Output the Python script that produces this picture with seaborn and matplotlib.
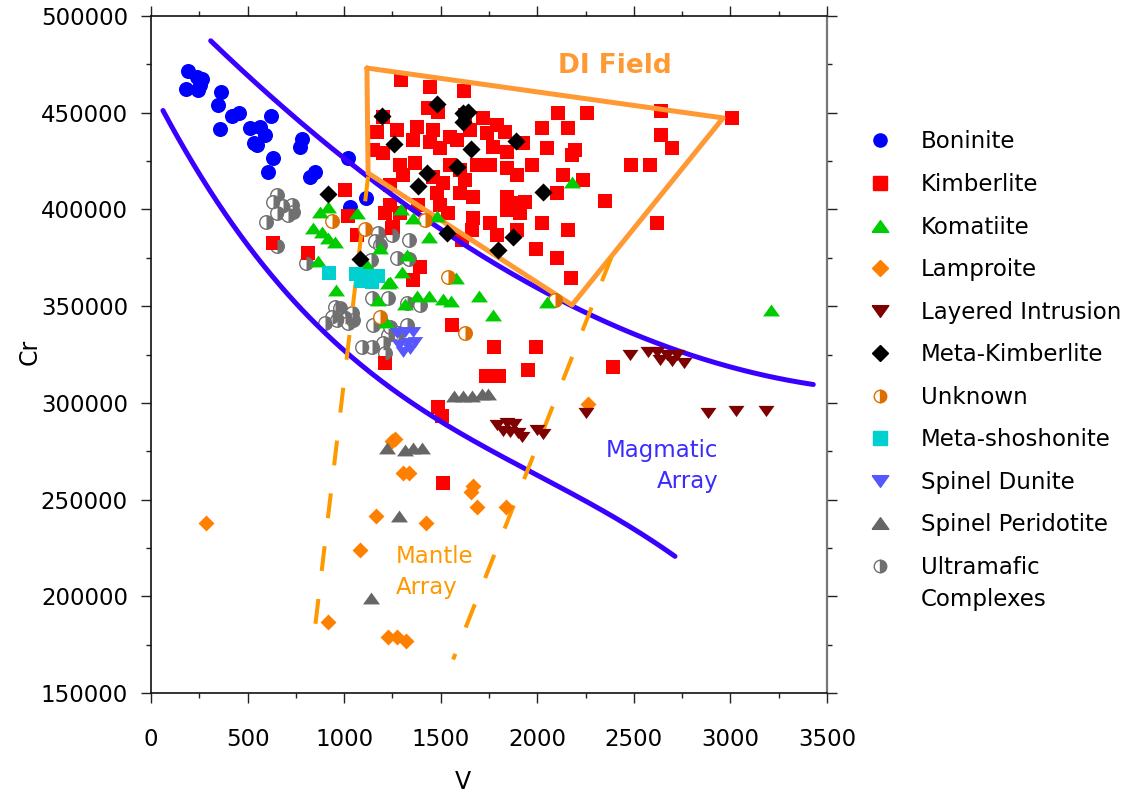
import numpy as np
import pandas as pd
import matplotlib
matplotlib.use("Agg")
import matplotlib.pyplot as plt
from matplotlib.lines import Line2D
from matplotlib.ticker import MultipleLocator
from matplotlib.transforms import IdentityTransform
import seaborn as sns

# ---------------- data ----------------
boninite_v = [193, 237, 262, 181, 245, 254, 361, 348, 418, 457, 620, 357, 513, 564, 590, 533, 547,
              780, 772, 633, 607, 849, 823, 1019, 1113, 1030]
boninite_cr = [471700, 468600, 467300, 462100, 461700, 464300, 460900, 454000, 448300, 450000, 448300,
               441600, 441900, 442800, 438500, 434200, 433300, 436300, 432100, 426400, 419500, 419500,
               416900, 426400, 405700, 401100]

kimberlite_v = [1293, 1445, 1622, 1436, 1203, 1488, 1626, 1721, 1790, 1169, 1272, 1376, 1462, 1548, 1652,
                1738, 1833, 1928, 1358, 1445, 1496, 1583, 1772, 1842, 1151, 1203, 1289, 1367, 1306, 1548,
                1600, 1686, 1755, 1842, 1894, 1971, 1462, 1514, 1626, 1238, 1479, 1600, 1669, 1842, 1894,
                1937, 1238, 1384, 1496, 1539, 1212, 1246, 1289, 1669, 1755, 1661, 1609, 1790, 1894, 1911,
                1842, 2023, 1994, 2104, 2173, 2161, 2106, 2256, 2161, 2023, 2049, 2195, 2178, 2135, 2238,
                2101, 2351, 2485, 2584, 2639, 2639, 2696, 3007, 2622, 1393, 1358, 1005, 633, 811, 1065,
                1255, 1557, 1776, 1994, 1735, 1802, 1954, 2394, 1488, 1508, 1510, 1212, 1020]
kimberlite_cr = [466900, 463400, 461400, 452300, 447900, 450500, 448800, 447100, 443600, 440200, 441100,
                 442800, 441100, 437600, 441100, 439400, 440200, 434200, 435900, 435000, 431600, 435900,
                 432400, 429800, 430700, 429000, 423000, 423800, 417800, 423000, 420400, 423000, 423000,
                 421300, 417800, 423000, 416900, 413500, 415200, 412600, 408300, 408300, 406600, 406600,
                 403200, 404000, 402300, 402300, 402300, 398000, 398000, 390200, 398000, 395400, 392800,
                 389400, 384200, 386800, 389400, 398000, 399700, 392800, 379500, 374700, 364700, 389400,
                 450000, 450000, 441900, 441900, 431900, 430700, 428100, 417800, 415200, 408300, 404500,
                 423000, 423000, 451000, 438500, 431900, 447100, 392800, 370400, 363500, 410000, 382500,
                 377300, 386800, 391100, 340200, 329000, 329000, 313900, 313900, 317000, 318400, 298000,
                 293400, 258700, 320400, 396600]

komatiite_v = [918, 875, 1065, 840, 884, 918, 955, 864, 1118, 1130, 1186, 1293, 1354, 1439, 1479, 958,
               1229, 1302, 1324, 1174, 1217, 1315, 1379, 1439, 1514, 1553, 1577, 1698, 1769, 2178, 2049,
               1238, 3210]
komatiite_cr = [401400, 398800, 397900, 390200, 388100, 385200, 383300, 373500, 371300, 368700, 379900,
                400200, 395400, 385900, 396700, 358300, 362100, 367800, 376400, 353200, 341600, 351100,
                355200, 355200, 353500, 352800, 364800, 355000, 345400, 414300, 352300, 362600, 348000]

lamproite_v = [285, 1249, 1263, 1306, 1337, 1669, 1655, 1686, 1838, 1165, 1424, 1082, 918, 1229, 1275,
               1320, 2264]
lamproite_cr = [237700, 280400, 281300, 263600, 263600, 257000, 254100, 246000, 246300, 241700, 237700,
                223900, 186900, 178800, 178800, 177000, 299400]

layered_v = [2480, 2575, 2618, 2636, 2670, 2696, 2722, 2760, 2251, 2883, 3029, 3183,
             1792, 1843, 1880, 1823, 1859, 1900, 1921, 1999, 2030]
layered_cr = [324700, 326400, 326400, 322200, 324700, 321800, 324700, 320400, 294600, 294600, 295800,
              295800, 288500, 289600, 289100, 285400, 284900, 284400, 282300, 286000, 283900]

metakimb_v = [1198, 1479, 1617, 1643, 1617, 1260, 1657, 1890, 1428, 1384, 1583, 2028, 1531, 1876, 1795,
              918, 1082]
metakimb_cr = [448500, 454300, 449700, 450500, 445400, 433800, 431200, 435400, 419000, 412100, 422100,
               409200, 388000, 385900, 379000, 408000, 374400]

unknown_v = [936, 1108, 1539, 1626, 1186, 1419, 2092]
unknown_cr = [394000, 389700, 364900, 336000, 344500, 394500, 353200]

metashosh_v = [922, 1061, 1087, 1118, 1144, 1175]
metashosh_cr = [367300, 366600, 363000, 365600, 362500, 365600]

spdunite_v = [1272, 1315, 1358, 1286, 1332, 1367, 1306, 1341]
spdunite_cr = [336000, 336800, 336800, 329900, 330800, 331700, 326400, 327800]

spperid_v = [1569, 1617, 1661, 1712, 1747, 1220, 1315, 1358, 1402, 1286, 1138]
spperid_cr = [303700, 303700, 303700, 304400, 304400, 276500, 275600, 276800, 276800, 241500, 199000]

ultra_v = [651, 632, 683, 729, 737, 651, 707, 595, 651, 804, 1177, 1246, 1336, 1160, 1186, 1272, 1336,
           1137, 953, 979, 936, 1005, 1039, 901, 962, 1022, 1048, 1143, 1229, 1151, 1229, 1203, 1091,
           1143, 1212, 1238, 1324, 1281, 1324, 1393]
ultra_cr = [407500, 403800, 401800, 402300, 398800, 398000, 397100, 393700, 381300, 372100, 387700,
            386800, 384200, 383700, 381600, 374700, 374400, 373900, 349700, 348900, 344500, 344500,
            346300, 341100, 342800, 341100, 342800, 354100, 354100, 340200, 335100, 330800, 329000,
            329000, 325600, 339400, 340200, 336000, 351500, 350600]

# reference lines
magma_upper_v = [309, 1099, 2187, 2670, 3429]
magma_upper_cr = [487200, 418700, 349800, 329000, 309500]
magma_lower_v = [62, 513, 1203, 1772, 2325, 2713]
magma_lower_cr = [451900, 378100, 311800, 275600, 243000, 221600]

di_v = [1118, 2962, 2180, 1124, 1118]
di_cr = [473100, 447300, 350600, 418800, 473100]

mantle_left_v = [1124, 849]
mantle_left_cr = [417000, 183600]
mantle_right_v = [2382, 1564]
mantle_right_cr = [374900, 167300]

labels = ["Boninite", "Kimberlite", "Komatiite", "Lamproite", "Layered Intrusion", "Meta-Kimberlite",
          "Unknown", "Meta-shoshonite", "Spinel Dunite", "Spinel Peridotite", "Ultramafic"]

# ---------------- style ----------------
sns.set_style("ticks")
plt.rcParams["font.family"] = ["DejaVu Sans"]
for k in ["text.color", "axes.labelcolor", "xtick.labelcolor", "ytick.labelcolor"]:
    plt.rcParams[k] = "black"

FS = 16.5
fig = plt.figure(figsize=(11.35, 7.95), dpi=100)
ax = fig.add_axes([151 / 1135, 1 - 693 / 795, 676 / 1135, 677 / 795])

tri_up = [(-1, -0.7), (1, -0.7), (0, 0.7), (-1, -0.7)]
tri_dn = [(-1, 0.7), (1, 0.7), (0, -0.7), (-1, 0.7)]
t = np.linspace(-np.pi / 2, np.pi / 2, 40)
half = [(0, -1)] + [(np.cos(a), np.sin(a)) for a in t] + [(0, 1), (0, -1)]

def sc(v, cr, marker, color, s, z=4):
    sns.scatterplot(x=v, y=cr, marker=marker, color=color, s=s, linewidth=0, ax=ax,
                    legend=False, zorder=z)

def halfsc(v, cr, color, s, z=4):
    sns.scatterplot(x=v, y=cr, marker="o", facecolor="white", edgecolor=color, s=s, linewidth=1.0,
                    ax=ax, legend=False, zorder=z)
    sns.scatterplot(x=v, y=cr, marker=half, color=color, s=s, linewidth=0, ax=ax, legend=False,
                    zorder=z + 0.01)

C_BON = "#0000FF"; C_KIM = "#FF0000"; C_KOM = "#00CC00"; C_LAM = "#FF8000"; C_LAY = "#7F0000"
C_MK = "#000000"; C_UNK = "#DD6E00"; C_MS = "#00D0D0"; C_SD = "#5757FF"; C_SP = "#666666"; C_UM = "#707070"

halfsc(ultra_v, ultra_cr, C_UM, 95, z=2)
sc(boninite_v, boninite_cr, "o", C_BON, 117, z=2)
sc(kimberlite_v, kimberlite_cr, "s", C_KIM, 104, z=2)
halfsc(unknown_v, unknown_cr, C_UNK, 95, z=4)
sc(komatiite_v, komatiite_cr, tri_up, C_KOM, 149)
sc(lamproite_v, lamproite_cr, "D", C_LAM, 66)
sc(layered_v, layered_cr, tri_dn, C_LAY, 133)
sc(metakimb_v, metakimb_cr, "D", C_MK, 85)
sc(metashosh_v, metashosh_cr, "s", C_MS, 100)
sc(spdunite_v, spdunite_cr, tri_dn, C_SD, 125)
sc(spperid_v, spperid_cr, tri_up, C_SP, 149)

# magmatic array curves (smoothed through read points)
for vv, cc in [(magma_upper_v, magma_upper_cr), (magma_lower_v, magma_lower_cr)]:
    p = np.polyfit(vv, cc, 3)
    xs = np.linspace(min(vv), max(vv), 200)
    sns.lineplot(x=xs, y=np.polyval(p, xs), color="#3A00FF", lw=3.6, ax=ax, zorder=3,
                 sort=False, estimator=None)

sns.lineplot(x=di_v, y=di_cr, color="#FF9933", lw=3.6, ax=ax, zorder=3, sort=False, estimator=None)
for vv, cc in [(mantle_left_v, mantle_left_cr), (mantle_right_v, mantle_right_cr)]:
    sns.lineplot(x=vv, y=cc, color="#FF9900", lw=2.9, ax=ax, zorder=3, sort=False, estimator=None,
                 linestyle=(0, (6.2, 7.0)))

ax.text(2403, 474100, "DI Field", color="#FF9933", fontsize=19, fontweight="bold",
        ha="center", va="center")
ax.text(2936, 267400, "Magmatic\nArray", color="#3B2BFF", fontsize=FS, ha="right", va="center",
        linespacing=1.4)
ax.text(1269, 212500, "Mantle\nArray", color="#FF9900", fontsize=FS, ha="left", va="center",
        linespacing=1.48)

# axes
ax.set_xlim(0, 3500)
ax.set_ylim(150000, 500000)
ax.xaxis.set_major_locator(MultipleLocator(500))
ax.xaxis.set_minor_locator(MultipleLocator(250))
ax.yaxis.set_major_locator(MultipleLocator(50000))
ax.yaxis.set_minor_locator(MultipleLocator(25000))
ax.ticklabel_format(style="plain", useOffset=False)
ax.tick_params(which="both", direction="out", top=True, right=True, labeltop=False,
               labelright=False, width=1.0, color="#222222", labelcolor="black")
ax.tick_params(which="major", length=7.2)
ax.tick_params(which="minor", length=3.8)
ax.tick_params(axis="x", which="major", pad=18, labelsize=FS)
ax.tick_params(axis="y", which="major", pad=9.4, labelsize=FS)
for side in ["left", "bottom", "top"]:
    ax.spines[side].set_linewidth(1.2)
    ax.spines[side].set_color("#111111")
ax.spines["right"].set_linewidth(1.6)
ax.spines["right"].set_color("#777777")

ax.set_xlabel("V", fontsize=17, color="black")
ax.set_ylabel("Cr", fontsize=17, color="black")
ax.xaxis.set_label_coords((463 - 151) / 676, -(770 - 693) / 677)
ax.yaxis.set_label_coords((42 - 151) / 676, (693 - 352) / 677)

# legend
handles = [
    Line2D([], [], ls="", marker="o", color=C_BON, markersize=9.5),
    Line2D([], [], ls="", marker="s", color=C_KIM, markersize=9.5),
    Line2D([], [], ls="", marker=tri_up, color=C_KOM, markersize=12),
    Line2D([], [], ls="", marker="D", color=C_LAM, markersize=8),
    Line2D([], [], ls="", marker=tri_dn, color=C_LAY, markersize=12),
    Line2D([], [], ls="", marker="D", color=C_MK, markersize=8),
    Line2D([], [], ls="", marker="o", fillstyle="right", markerfacecolor=C_UNK,
           markerfacecoloralt="white", markeredgecolor=C_UNK, markersize=9),
    Line2D([], [], ls="", marker="s", color=C_MS, markersize=9.5),
    Line2D([], [], ls="", marker=tri_dn, color=C_SD, markersize=12),
    Line2D([], [], ls="", marker=tri_up, color=C_SP, markersize=12),
    Line2D([], [], ls="", marker="o", fillstyle="right", markerfacecolor=C_UM,
           markerfacecoloralt="white", markeredgecolor=C_UM, markersize=9),
]
leg = fig.legend(handles, labels, loc="upper left", bbox_to_anchor=(868.5 / 1135, 1 - 130.5 / 795),
                 bbox_transform=fig.transFigure, frameon=False, fontsize=FS, handlelength=1.0,
                 handletextpad=1.29, labelspacing=0.852, borderpad=0, borderaxespad=0)
for txt in leg.get_texts():
    txt.set_color("black")

fig.canvas.draw()
bb = leg.get_texts()[-1].get_window_extent()
fig.text(bb.x0, bb.y0 - 32 * fig.dpi / 100, "Complexes", fontsize=FS, transform=IdentityTransform(),
         ha="left", va="bottom", color="black")

fig.savefig("out.png", dpi=100)
